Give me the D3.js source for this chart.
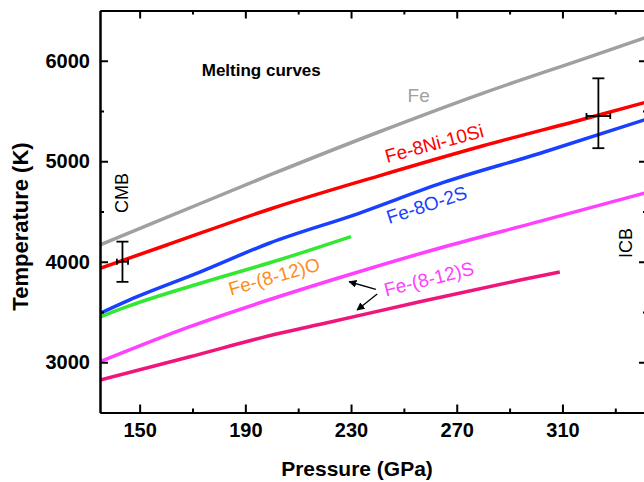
<!DOCTYPE html>
<html>
<head>
<meta charset="utf-8">
<script src="https://cdn.jsdelivr.net/npm/d3@7"></script>
<style>
  body { margin: 0; background: #fff; }
  svg { display: block; font-family: "Liberation Sans", Arial, sans-serif; }
  .axis path, .axis line { stroke: #000; stroke-width: 2; }
  .axis text { font-size: 20px; font-weight: bold; fill: #000; }
</style>
</head>
<body>
<script>
var width = 644;
var height = 482;

// Melting curves, pressure (GPa) vs temperature (K)
var fePressure   = [135, 160, 200, 240, 280, 320, 342];
var feTemp       = [4167, 4438, 4871, 5286, 5678, 6037, 6236];
var niSiPressure = [135, 160, 200, 240, 280, 320, 342];
var niSiTemp     = [3935, 4164, 4530, 4850, 5154, 5433, 5590];
var oSPressure   = [135, 146, 173, 199, 233, 265, 301, 342];
var oSTemp       = [3487, 3619, 3900, 4184, 4482, 4789, 5075, 5420];
var oPressure    = [135, 146, 173, 203, 230];
var oTemp        = [3450, 3560, 3786, 4020, 4250];
var sHiPressure  = [135, 169, 201, 233, 265, 301, 342];
var sHiTemp      = [3005, 3354, 3639, 3901, 4147, 4399, 4690];
var sLoPressure  = [135, 169, 203, 218, 256, 294, 309];
var sLoTemp      = [2823, 3055, 3288, 3375, 3602, 3818, 3898];

var xTicks = [150, 190, 230, 270, 310];
var xMinorTicks = [170, 210, 250, 290, 330];
var yTicks = [3000, 4000, 5000, 6000];
var yMinorTicks = [3500, 4500, 5500];

// error bars at the core-mantle and inner-core boundaries
var boundaryNames = ["CMB", "ICB"];
var boundaryPressure = [143.5, 323.6];
var boundaryPressureErr = [2.1, 4.5];
var boundaryTemp = [4000, 5450];
var boundaryTempLow = [3800, 5130];
var boundaryTempHigh = [4200, 5825];

var series = [
  { p: fePressure, t: feTemp, color: "#a0a0a0" },
  { p: niSiPressure, t: niSiTemp, color: "#ff0000" },
  { p: oSPressure, t: oSTemp, color: "#1a40ff" },
  { p: oPressure, t: oTemp, color: "#33e833" },
  { p: sHiPressure, t: sHiTemp, color: "#ff40ff" },
  { p: sLoPressure, t: sLoTemp, color: "#f0157a" }
];

// text labels placed in data coordinates (start of baseline)
var labels = [
  { text: "Melting curves", p: 173.5, t: 5848, angle: 0, color: "#000", size: 17, bold: true },
  { text: "Fe", p: 251.4, t: 5587, angle: 0, color: "#a0a0a0", size: 19 },
  { text: "Fe-8Ni-10Si", p: 243.6, t: 4983, angle: -15, color: "#ff0000", size: 19 },
  { text: "Fe-8O-2S", p: 244.4, t: 4376, angle: -18, color: "#1a40ff", size: 19 },
  { text: "Fe-(8-12)O", p: 184.5, t: 3662, angle: -16, color: "#ff8c1a", size: 19 },
  { text: "Fe-(8-12)S", p: 243.2, t: 3655, angle: -14, color: "#ff40ff", size: 19 }
];

var arrows = [
  { p0: 239.4, t0: 3726, p1: 229.3, t1: 3801 },
  { p0: 239.9, t0: 3679, p1: 232.3, t1: 3520 }
];

var xScale = d3.scaleLinear().domain([135, 342]).range([100, 647]);
var yScale = d3.scaleLinear().domain([2500, 6500]).range([412.5, 10.5]);

var svg = d3.select("body")
  .append("svg")
  .attr("width", width)
  .attr("height", height);

svg.append("defs").append("marker")
  .attr("id", "head")
  .attr("viewBox", "0 0 10 10")
  .attr("refX", 9)
  .attr("refY", 5)
  .attr("markerWidth", 8)
  .attr("markerHeight", 8)
  .attr("markerUnits", "userSpaceOnUse")
  .attr("orient", "auto")
  .append("path")
  .attr("d", "M0,0 L10,5 L0,10 Z")
  .attr("fill", "#000");

svg.select("defs").append("clipPath")
  .attr("id", "plot-area")
  .append("rect")
  .attr("x", 100)
  .attr("y", 10.5)
  .attr("width", 547)
  .attr("height", 402);

// curves
var line = d3.line()
  .x(function(d) { return xScale(d[0]); })
  .y(function(d) { return yScale(d[1]); })
  .curve(d3.curveMonotoneX);

svg.append("g")
  .attr("clip-path", "url(#plot-area)")
  .selectAll("path")
  .data(series)
  .enter()
  .append("path")
  .attr("d", function(s) {
    return line(s.p.map(function(p, i) { return [p, s.t[i]]; }));
  })
  .attr("fill", "none")
  .attr("stroke", function(s) { return s.color; })
  .attr("stroke-width", 3.5)
  .attr("stroke-linejoin", "round");

// error bars
var bars = svg.append("g")
  .attr("stroke", "#000")
  .attr("stroke-width", 1.8)
  .selectAll("g")
  .data(boundaryNames)
  .enter()
  .append("g");

bars.append("line")
  .attr("x1", function(d, i) { return xScale(boundaryPressure[i]); })
  .attr("x2", function(d, i) { return xScale(boundaryPressure[i]); })
  .attr("y1", function(d, i) { return yScale(boundaryTempLow[i]); })
  .attr("y2", function(d, i) { return yScale(boundaryTempHigh[i]); });

bars.selectAll("line.cap")
  .data(function(d, i) { return [[i, boundaryTempLow[i]], [i, boundaryTempHigh[i]]]; })
  .enter()
  .append("line")
  .attr("class", "cap")
  .attr("x1", function(d) { return xScale(boundaryPressure[d[0]]) - 6; })
  .attr("x2", function(d) { return xScale(boundaryPressure[d[0]]) + 6; })
  .attr("y1", function(d) { return yScale(d[1]); })
  .attr("y2", function(d) { return yScale(d[1]); });

bars.append("line")
  .attr("x1", function(d, i) { return xScale(boundaryPressure[i] - boundaryPressureErr[i]); })
  .attr("x2", function(d, i) { return xScale(boundaryPressure[i] + boundaryPressureErr[i]); })
  .attr("y1", function(d, i) { return yScale(boundaryTemp[i]); })
  .attr("y2", function(d, i) { return yScale(boundaryTemp[i]); });

bars.selectAll("line.hcap")
  .data(function(d, i) {
    return [[i, boundaryPressure[i] - boundaryPressureErr[i]], [i, boundaryPressure[i] + boundaryPressureErr[i]]];
  })
  .enter()
  .append("line")
  .attr("class", "hcap")
  .attr("x1", function(d) { return xScale(d[1]); })
  .attr("x2", function(d) { return xScale(d[1]); })
  .attr("y1", function(d) { return yScale(boundaryTemp[d[0]]) - 3; })
  .attr("y2", function(d) { return yScale(boundaryTemp[d[0]]) + 3; });

// boundary names, written vertically
var boundaryLabelPos = [[145.6, 4684], [336.2, 4187]];
svg.selectAll("text.boundary")
  .data(boundaryNames)
  .enter()
  .append("text")
  .attr("class", "boundary")
  .attr("transform", function(d, i) {
    return "translate(" + xScale(boundaryLabelPos[i][0]) + "," + yScale(boundaryLabelPos[i][1]) + ") rotate(-90)";
  })
  .attr("text-anchor", "middle")
  .attr("font-size", 18)
  .text(function(d) { return d; });

// curve labels
svg.selectAll("text.label")
  .data(labels)
  .enter()
  .append("text")
  .attr("class", "label")
  .attr("transform", function(d) {
    return "translate(" + xScale(d.p) + "," + yScale(d.t) + ") rotate(" + d.angle + ")";
  })
  .attr("font-size", function(d) { return d.size; })
  .attr("font-weight", function(d) { return d.bold ? "bold" : "normal"; })
  .attr("fill", function(d) { return d.color; })
  .text(function(d) { return d.text; });

svg.selectAll("line.arrow")
  .data(arrows)
  .enter()
  .append("line")
  .attr("class", "arrow")
  .attr("x1", function(d) { return xScale(d.p0); })
  .attr("y1", function(d) { return yScale(d.t0); })
  .attr("x2", function(d) { return xScale(d.p1); })
  .attr("y2", function(d) { return yScale(d.t1); })
  .attr("stroke", "#000")
  .attr("stroke-width", 1.3)
  .attr("marker-end", "url(#head)");

// axes, ticks point inward on all four sides
function addAxis(axis, transform, showText) {
  var g = svg.append("g")
    .attr("class", "axis")
    .attr("transform", transform)
    .call(axis);
  if (!showText) g.selectAll("text").remove();
  return g;
}

addAxis(d3.axisBottom(xScale).tickValues(xTicks).tickSizeInner(-8).tickSizeOuter(0).tickPadding(10).tickFormat(d3.format("d")),
  "translate(0," + yScale.range()[0] + ")", true);
addAxis(d3.axisBottom(xScale).tickValues(xMinorTicks).tickSizeInner(-4).tickSizeOuter(0),
  "translate(0," + yScale.range()[0] + ")", false);
addAxis(d3.axisTop(xScale).tickValues(xTicks).tickSizeInner(-8).tickSizeOuter(0),
  "translate(0," + yScale.range()[1] + ")", false);
addAxis(d3.axisTop(xScale).tickValues(xMinorTicks).tickSizeInner(-4).tickSizeOuter(0),
  "translate(0," + yScale.range()[1] + ")", false);

addAxis(d3.axisLeft(yScale).tickValues(yTicks).tickSizeInner(-8).tickSizeOuter(0).tickPadding(10).tickFormat(d3.format("d")),
  "translate(" + xScale.range()[0] + ",0)", true);
addAxis(d3.axisLeft(yScale).tickValues(yMinorTicks).tickSizeInner(-4).tickSizeOuter(0),
  "translate(" + xScale.range()[0] + ",0)", false);
addAxis(d3.axisRight(yScale).tickValues(yTicks).tickSizeInner(-8).tickSizeOuter(0),
  "translate(" + xScale.range()[1] + ",0)", false);
addAxis(d3.axisRight(yScale).tickValues(yMinorTicks).tickSizeInner(-4).tickSizeOuter(0),
  "translate(" + xScale.range()[1] + ",0)", false);

// axis titles
svg.append("text")
  .attr("x", 357)
  .attr("y", 476)
  .attr("text-anchor", "middle")
  .attr("font-size", 21)
  .attr("font-weight", "bold")
  .text("Pressure (GPa)");

svg.append("text")
  .attr("transform", "translate(28,226.5) rotate(-90)")
  .attr("text-anchor", "middle")
  .attr("font-size", 22)
  .attr("font-weight", "bold")
  .text("Temperature (K)");
</script>
</body>
</html>
